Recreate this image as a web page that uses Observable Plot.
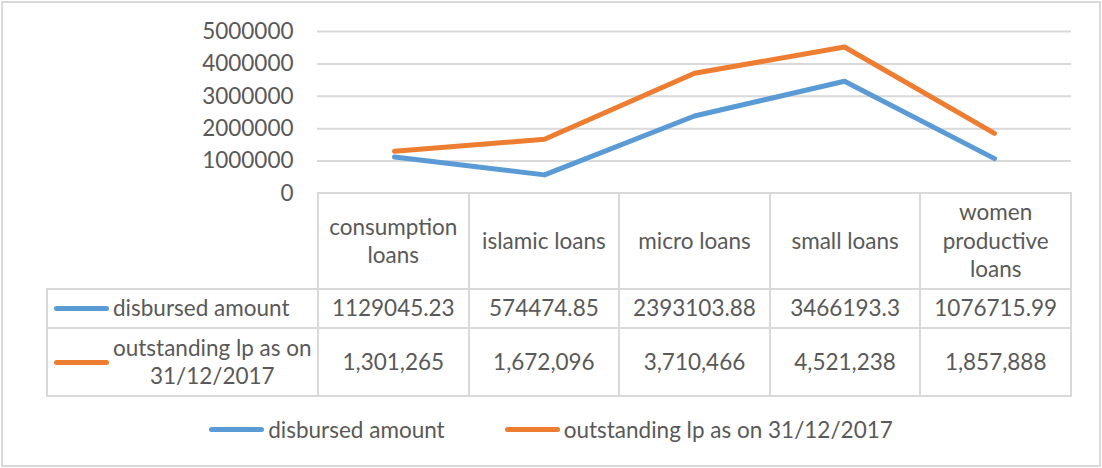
<!DOCTYPE html>
<html><head><meta charset="utf-8">
<script src="https://cdn.jsdelivr.net/npm/d3@7"></script>
<script src="https://cdn.jsdelivr.net/npm/@observablehq/plot@0.6"></script>
<style>
body{margin:0;background:#fff;}
#chart{position:relative;width:1102px;height:468px;font-family:Lato,sans-serif;color:#595959;overflow:hidden;}
#frame{position:absolute;left:1px;top:1px;width:1096px;height:462px;border:2px solid #d9d9d9;}
#plot{position:absolute;left:0;top:0;}
table{position:absolute;left:46px;top:192px;border-collapse:collapse;table-layout:fixed;}
td{border:2px solid #d9d9d9;text-align:center;font-size:22.5px;padding:0;line-height:28.5px;color:#595959;}
td.blank{border-top:none;border-left:none;}
.lab{display:flex;align-items:center;padding-left:6px;}
.key{display:inline-block;width:55px;height:5px;border-radius:3px;flex:none;margin-right:4px;}
.labtxt{flex:none;text-align:center;}
#legend{position:absolute;left:0;top:416px;width:1102px;font-size:22.5px;display:flex;justify-content:center;}
.litem{display:flex;align-items:center;margin:0 30px;}
</style></head>
<body>
<div id="chart">
  <div id="frame"></div>
  <div id="plot"></div>
  <table id="tbl"></table>
  <div id="legend"></div>
</div>
<script>
const categories = ["consumption loans", "islamic loans", "micro loans", "small loans", "women productive loans"];
const headerLines = [["consumption", "loans"], ["islamic loans"], ["micro loans"], ["small loans"], ["women", "productive", "loans"]];
const disbursed = [1129045.23, 574474.85, 2393103.88, 3466193.3, 1076715.99];
const outstanding = [1301265, 1672096, 3710466, 4521238, 1857888];
const seriesNames = ["disbursed amount", "outstanding lp as on 31/12/2017"];
const seriesColors = ["#5B9BD5", "#ED7D31"];
const yTicks = [0, 1000000, 2000000, 3000000, 4000000, 5000000];

const rows = [];
categories.forEach((c, i) => {
  rows.push({category: c, series: seriesNames[0], value: disbursed[i]});
  rows.push({category: c, series: seriesNames[1], value: outstanding[i]});
});

const plot = Plot.plot({
  width: 1102,
  height: 200,
  marginLeft: 317,
  marginRight: 31,
  marginTop: 31,
  marginBottom: 7,
  style: {fontFamily: "Lato, sans-serif", fontSize: "22.5px", color: "#595959", background: "transparent", overflow: "visible"},
  x: {type: "point", domain: categories, padding: 0.5, axis: null},
  y: {domain: [0, 5000000], ticks: yTicks, tickFormat: d => String(d), tickSize: 0, tickPadding: 24, label: null},
  color: {domain: seriesNames, range: seriesColors},
  marks: [
    Plot.ruleY(yTicks.filter(d => d > 0), {stroke: "#d9d9d9", strokeWidth: 2}),
    Plot.axisY({ticks: yTicks, tickFormat: d => String(d), tickSize: 0, tickPadding: 24, label: null, fill: "#595959"}),
    Plot.line(rows, {x: "category", y: "value", z: "series", stroke: "series", strokeWidth: 5, strokeLinecap: "round", strokeLinejoin: "round"})
  ]
});
document.getElementById("plot").appendChild(plot);

// data table
const tbl = document.getElementById("tbl");
const colW = 150.6;
let html = '<colgroup><col style="width:271px">' + categories.map(() => `<col style="width:${colW}px">`).join("") + '</colgroup>';
html += '<tr style="height:96px"><td class="blank"></td>' + headerLines.map(l => `<td>${l.join("<br>")}</td>`).join("") + '</tr>';
const fmt2 = d3.format(",.0f");
html += `<tr style="height:39px"><td><div class="lab"><span class="key" style="background:${seriesColors[0]}"></span><span class="labtxt">${seriesNames[0]}</span></div></td>` + disbursed.map(v => `<td>${String(v)}</td>`).join("") + '</tr>';
html += `<tr style="height:68px"><td><div class="lab"><span class="key" style="background:${seriesColors[1]}"></span><span class="labtxt">outstanding lp as on<br>31/12/2017</span></div></td>` + outstanding.map(v => `<td>${fmt2(v)}</td>`).join("") + '</tr>';
tbl.innerHTML = html;

// bottom legend
const legend = document.getElementById("legend");
legend.innerHTML = seriesNames.map((n, i) => `<div class="litem"><span class="key" style="background:${seriesColors[i]}"></span><span>${n}</span></div>`).join("");
</script>
</body></html>
